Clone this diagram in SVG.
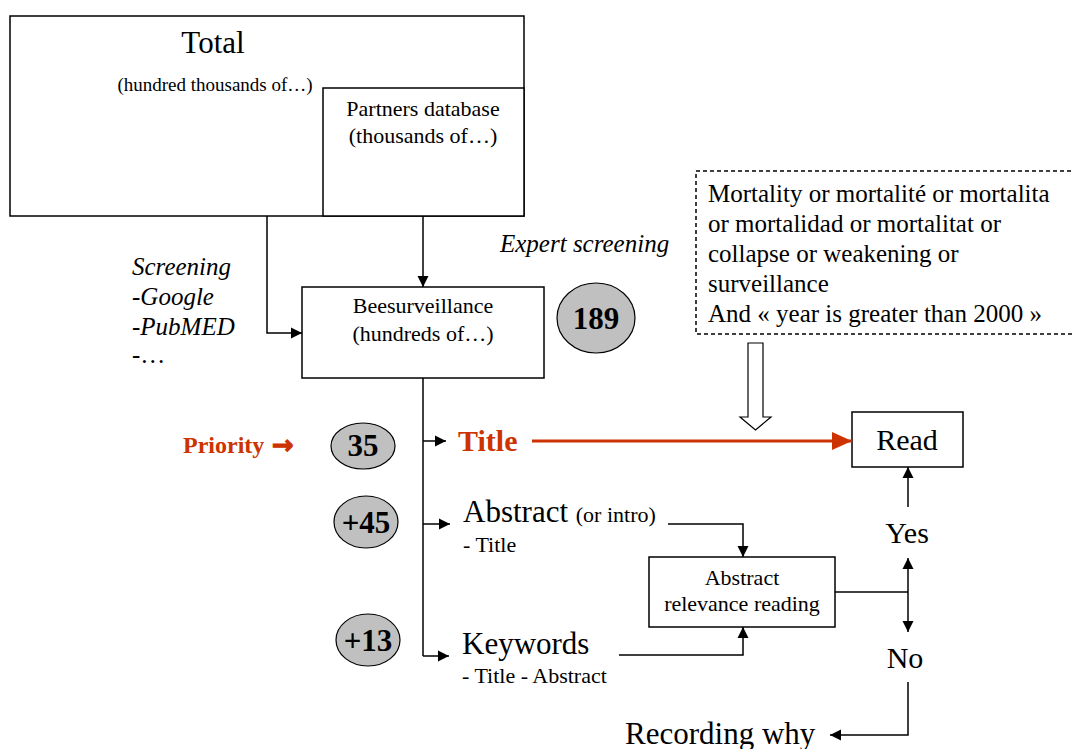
<svg xmlns="http://www.w3.org/2000/svg" width="1072" height="749" viewBox="0 0 1072 749">
<style>
text{font-family:"Liberation Serif","Times New Roman",serif;fill:#000}
.box{fill:#fff;stroke:#000;stroke-width:1.5}
.oval{fill:#c0c0c0;stroke:#000;stroke-width:1.2}
.num{font-size:31px;font-weight:bold;text-anchor:middle}
.c{text-anchor:middle}
.it{font-style:italic;font-size:25px}
.ln{fill:none;stroke:#000;stroke-width:1.5}
.red{fill:#cc3300}
</style>
<defs>
<marker id="ah" markerUnits="userSpaceOnUse" markerWidth="12" markerHeight="12" refX="11" refY="6" orient="auto">
<path d="M0,0.5 L11,6 L0,11.5 z" fill="#000"/>
</marker>
<marker id="ahr" markerUnits="userSpaceOnUse" markerWidth="20" markerHeight="18" refX="20" refY="9" orient="auto">
<path d="M0,0 L20,9 L0,18 z" fill="#cc3300"/>
</marker>
</defs>
<rect width="1072" height="749" fill="#fff"/>

<g id="total">
<rect class="box" x="10" y="16" width="514" height="200"/>
<text x="213" y="53" class="c" font-size="31">Total</text>
<text x="215" y="91" class="c" font-size="19">(hundred thousands of…)</text>
</g>
<g id="partners">
<rect class="box" x="323" y="88" width="201" height="128"/>
<text x="423" y="116" class="c" font-size="22">Partners database</text>
<text x="423" y="143" class="c" font-size="22">(thousands of…)</text>
</g>
<g id="screening">
<text x="132" y="275" class="it">Screening</text>
<text x="132" y="305" class="it">-Google</text>
<text x="132" y="335" class="it">-PubMED</text>
<text x="132" y="363" font-size="25">-…</text>
</g>
<g id="expert">
<text x="500" y="252" class="it">Expert screening</text>
</g>
<g id="bees">
<rect class="box" x="302" y="287" width="242" height="91"/>
<text x="423" y="313" class="c" font-size="22">Beesurveillance</text>
<text x="423" y="341" class="c" font-size="22">(hundreds of…)</text>
</g>
<g id="n189">
<ellipse class="oval" cx="596" cy="318" rx="39" ry="35"/>
<text x="596" y="329" class="num">189</text>
</g>
<g id="query">
<rect x="696" y="171" width="390" height="163" fill="#fff" stroke="#000" stroke-width="1.5" stroke-dasharray="4,3"/>
<text x="708" y="202" font-size="25">Mortality or mortalité or mortalita</text>
<text x="708" y="232" font-size="25">or mortalidad or mortalitat or</text>
<text x="708" y="262" font-size="25">collapse or weakening or</text>
<text x="708" y="292" font-size="25">surveillance</text>
<text x="708" y="322" font-size="25">And « year is greater than 2000 »</text>
</g>
<g id="priority">
<text x="183" y="453" font-size="24" font-weight="bold" class="red">Priority <tspan font-family="'DejaVu Sans',sans-serif" font-size="26" stroke="#cc3300" stroke-width="1" x="272" y="454">→</tspan></text>
</g>
<g id="n35">
<ellipse class="oval" cx="363" cy="446" rx="32" ry="23"/>
<text x="363" y="456" class="num">35</text>
</g>
<g id="n45">
<ellipse class="oval" cx="366" cy="522" rx="32" ry="26"/>
<text x="366" y="533" class="num">+45</text>
</g>
<g id="n13">
<ellipse class="oval" cx="368" cy="640" rx="32" ry="26"/>
<text x="368" y="651" class="num">+13</text>
</g>
<g id="title">
<text x="458" y="451" font-size="30" font-weight="bold" class="red">Title</text>
</g>
<g id="abstract">
<text x="463" y="522" font-size="31">Abstract <tspan font-size="22">(or intro)</tspan></text>
<text x="463" y="552" font-size="22">- Title</text>
</g>
<g id="keywords">
<text x="462" y="654" font-size="31">Keywords</text>
<text x="462" y="683" font-size="22">- Title - Abstract</text>
</g>
<g id="read">
<rect class="box" x="852" y="412" width="111" height="55"/>
<text x="907" y="450" class="c" font-size="30">Read</text>
</g>
<g id="relevance">
<rect class="box" x="649" y="557" width="186" height="70"/>
<text x="742" y="585" class="c" font-size="22">Abstract</text>
<text x="742" y="611" class="c" font-size="22">relevance reading</text>
</g>
<g id="yes"><text x="907" y="543" class="c" font-size="30">Yes</text></g>
<g id="no"><text x="905" y="668" class="c" font-size="30">No</text></g>
<g id="recording"><text x="625" y="744" font-size="31">Recording why</text></g>

<g id="connectors">
<path class="ln" d="M267,216 V333 H302" marker-end="url(#ah)"/>
<path class="ln" d="M423,216 V287" marker-end="url(#ah)"/>
<path class="ln" d="M423,378 V656"/>
<path class="ln" d="M423,441 H446" marker-end="url(#ah)"/>
<path class="ln" d="M423,524 H450" marker-end="url(#ah)"/>
<path class="ln" d="M423,656 H449" marker-end="url(#ah)"/>
<path fill="none" stroke="#cc3300" stroke-width="3" d="M532,441 H852" marker-end="url(#ahr)"/>
<path fill="#fff" stroke="#000" stroke-width="1.2" d="M748,343 H763 V417 H771 L755.5,430 L740,417 H748 Z"/>
<path class="ln" d="M668,524 H743 V557" marker-end="url(#ah)"/>
<path class="ln" d="M619,655 H743 V627" marker-end="url(#ah)"/>
<path class="ln" d="M835,592 H908"/>
<path class="ln" d="M908,592 V558" marker-end="url(#ah)"/>
<path class="ln" d="M908,592 V632" marker-end="url(#ah)"/>
<path class="ln" d="M908,507 V467" marker-end="url(#ah)"/>
<path class="ln" d="M908,682 V735 H830" marker-end="url(#ah)"/>
</g>
</svg>
